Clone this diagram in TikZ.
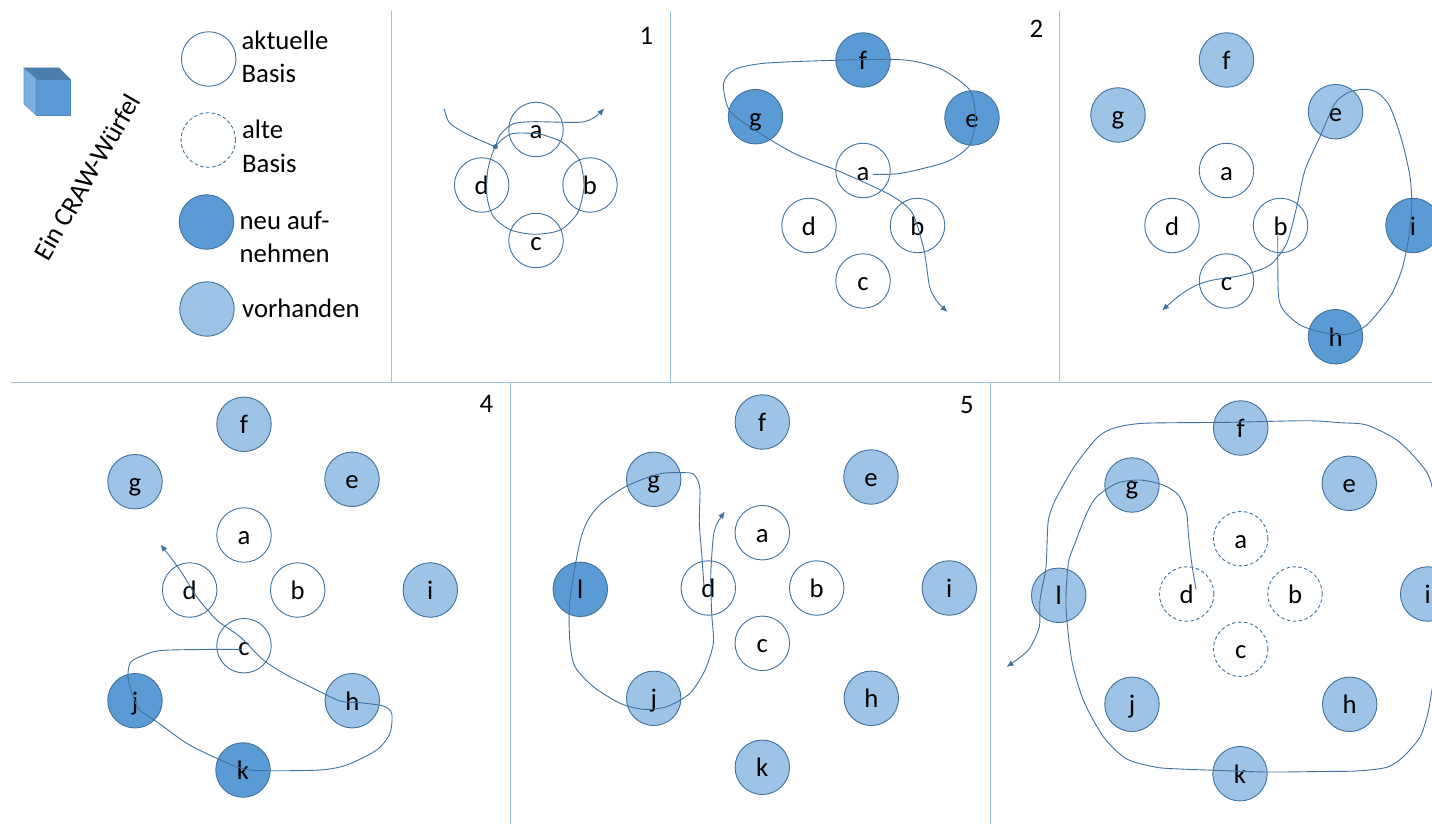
\documentclass[tikz,border=0pt]{standalone}
\usepackage{fontspec}
\setmainfont{Carlito}
\usetikzlibrary{arrows.meta}
\definecolor{edgeblue}{HTML}{41719C}
\definecolor{newfill}{HTML}{5B9BD5}
\definecolor{oldfill}{HTML}{9DC3E6}
\definecolor{sepblue}{HTML}{9DC3E6}
\definecolor{cubetop}{HTML}{4A7EAD}
\definecolor{cubeleft}{HTML}{7CAFDD}
\tikzset{
  basenode/.style={circle,draw=edgeblue,line width=0.9pt,minimum size=54.5pt,inner sep=0pt,text height=19pt,text depth=0pt,font=\fontsize{26.7}{26.7}\selectfont},
  cur/.style={basenode,fill=white},
  alt/.style={basenode,fill=white,dashed,dash pattern=on 3.5pt off 2.5pt},
  neu/.style={basenode,fill=newfill},
  vor/.style={basenode,fill=oldfill},
  legend/.style={anchor=base west,inner sep=0pt,font=\fontsize{26.7}{26.7}\selectfont},
  panelno/.style={anchor=base,inner sep=0pt,font=\fontsize{26.7}{26.7}\selectfont},
  sep/.style={draw=sepblue,line width=1pt},
  walk/.style={draw=edgeblue,line width=0.9pt},
  walkarrow/.style={walk,-{Latex[length=7pt,width=6pt]}},
}
\begin{document}
\begin{tikzpicture}[x=1pt,y=-1pt]
\useasboundingbox (0,0) rectangle (1432,824);
\clip (0,0) rectangle (1432,824);
% separators
\draw[sep] (391.5,11) -- (391.5,382);
\draw[sep] (670,11) -- (670,382);
\draw[sep] (1059,11) -- (1059,382);
\draw[sep] (11,382) -- (1432,382);
\draw[sep] (510,382) -- (510,824);
\draw[sep] (990.5,382) -- (990.5,824);
% cube
\fill[newfill,draw=newfill!85!black,line width=0.6pt] (36,79) rectangle (70,115);
\fill[cubetop,draw=cubetop,line width=0.6pt] (24,68) -- (59,68) -- (70,79) -- (36,79) -- cycle;
\fill[cubeleft,draw=newfill,line width=0.6pt] (24,68) -- (36,79) -- (36,115) -- (24,104) -- cycle;
\node[rotate=60,inner sep=0pt,font=\fontsize{26.7}{26.7}\selectfont] (cubetext) at (87,177) {Ein CRAW-Würfel};
% legend
\node[cur] (lega) at (208.7,59) {};
\node[alt] (legb) at (208.3,140) {};
\node[neu] (legc) at (206.5,222) {};
\node[vor] (legd) at (207,309) {};
\node[legend] (t1) at (241.5,50) {aktuelle};
\node[legend] (t2) at (241.5,83) {Basis};
\node[legend] (t3) at (242,139) {alte};
\node[legend] (t4) at (242,172) {Basis};
\node[legend] (t5) at (239.5,229.5) {neu auf-};
\node[legend] (t6) at (239.5,262.5) {nehmen};
\node[legend] (t7) at (242,317.5) {vorhanden};
% panel numbers
\node[panelno] (n1) at (646.5,45) {1};
\node[panelno] (n2) at (1036.5,38) {2};
\node[panelno] (n4) at (486.5,412.5) {4};
\node[panelno] (n5) at (967,413.5) {5};
% panel 1
\node[cur] (p1a) at (536,129.5) {a};
\node[cur] (p1b) at (590,185) {b};
\node[cur] (p1c) at (536,240.5) {c};
\node[cur] (p1d) at (481.7,185) {d};
% panel 2
\node[neu] (p2f) at (863,60) {f};
\node[neu] (p2g) at (755.5,116.7) {g};
\node[neu] (p2e) at (972,118) {e};
\node[cur] (p2a) at (863,170.5) {a};
\node[cur] (p2d) at (809,225.5) {d};
\node[cur] (p2b) at (917.5,225.5) {b};
\node[cur] (p2c) at (863,281) {c};
% panel 3
\node[vor] (p3f) at (1226.5,60) {f};
\node[vor] (p3g) at (1118,115) {g};
\node[vor] (p3e) at (1335.5,111.7) {e};
\node[cur] (p3a) at (1226.5,170.5) {a};
\node[cur] (p3d) at (1172,225.5) {d};
\node[cur] (p3b) at (1280.5,225.5) {b};
\node[cur] (p3c) at (1226.5,281) {c};
\node[neu] (p3i) at (1413,225.5) {i};
\node[neu] (p3h) at (1335.5,336.7) {h};
% panel 4
\node[vor] (p4f) at (244,424.3) {f};
\node[vor] (p4g) at (135,481.7) {g};
\node[vor] (p4e) at (352,479.3) {e};
\node[cur] (p4a) at (244,535) {a};
\node[cur] (p4d) at (189.7,590) {d};
\node[cur] (p4b) at (297.7,590) {b};
\node[vor] (p4i) at (430.3,590) {i};
\node[cur] (p4c) at (244,645.7) {c};
\node[neu] (p4j) at (135,700.7) {j};
\node[vor] (p4h) at (352.3,700.7) {h};
\node[neu] (p4k) at (243,770) {k};
% panel 5
\node[vor] (p5f) at (762.3,422) {f};
\node[vor] (p5g) at (653.7,479.3) {g};
\node[vor] (p5e) at (871,477) {e};
\node[cur] (p5a) at (762.3,532.7) {a};
\node[cur] (p5d) at (708.3,588) {d};
\node[cur] (p5b) at (816.7,588) {b};
\node[vor] (p5i) at (949.3,588) {i};
\node[neu] (p5l) at (580.3,589.3) {l};
\node[cur] (p5c) at (762.3,643.3) {c};
\node[vor] (p5j) at (653.7,698.3) {j};
\node[vor] (p5h) at (871.3,698.3) {h};
\node[vor] (p5k) at (762.3,767.3) {k};
% panel 6
\node[vor] (p6f) at (1240.7,428) {f};
\node[vor] (p6g) at (1132,485) {g};
\node[vor] (p6e) at (1349.3,483.3) {e};
\node[alt] (p6a) at (1240.7,538.7) {a};
\node[alt] (p6d) at (1186.7,594) {d};
\node[alt] (p6b) at (1295,594) {b};
\node[vor] (p6i) at (1427.7,594) {i};
\node[vor] (p6l) at (1058.7,595.3) {l};
\node[alt] (p6c) at (1240.7,649.3) {c};
\node[vor] (p6j) at (1132,704.3) {j};
\node[vor] (p6h) at (1349.7,704.3) {h};
\node[vor] (p6k) at (1240,773.7) {k};
% free ends of the walks
\coordinate (w1tail) at (444.3,109);
\coordinate (w1dot) at (495.4,146.7);
\coordinate (w1loop) at (531.7,133.3);
\coordinate (w1end) at (604.2,108.3);
\coordinate (w2start) at (873,174.3);
\coordinate (w2end) at (947.5,312);
\coordinate (w3start) at (1277.7,233.3);
\coordinate (w3end) at (1162,310.5);
\coordinate (w4start) at (241.7,649.3);
\coordinate (w4end) at (160.5,544.5);
\coordinate (w5start) at (704,586.7);
\coordinate (w5end) at (724.8,511.5);
\coordinate (w6start) at (1196,589.3);
\coordinate (w6end) at (1006.5,667);
% walks
\begin{scope}[smooth,tension=0.45]
\draw[walk] plot coordinates {(w1tail) (449.6,123) (468.7,135) (w1dot)};
\fill[edgeblue] (w1dot) circle (2.6pt);
\draw[walk] plot coordinates {(w1loop) (510.7,134) (495.4,146.7) (487.8,170) (487,196.7) (493.5,216.7) (510.7,230) (535,234.3) (560.3,230) (577.5,213) (584,186.7) (579.4,160) (562.2,142.3) (541.2,134.3) (w1loop)};
\draw[walkarrow] plot coordinates {(w1dot) (500,135) (512.6,124) (533.6,121.7) (579.4,122.3) (594.7,117.3) (w1end)};
\draw[walkarrow] plot coordinates {(w2start) (901,173.3) (946.8,161.7) (969.7,145) (975.4,116.7) (969.7,90) (943,70) (916.3,61.7) (889.5,59.3) (820.8,60.7) (763.6,63.3) (735,69.3) (723.5,83.3) (729.2,110) (752,128.3) (794,153.3) (836,170) (862.8,181.7) (893.4,196.7) (912.5,213.3) (924,250) (929.6,286.7) (937.3,301.7) (w2end)};
\draw[walkarrow] plot coordinates {(w3start) (1278.3,293.3) (1283.3,310) (1300,325) (1323.3,332.7) (1346.7,334.3) (1366.7,325) (1390,296.7) (1401.7,270) (1408.3,240) (1411.7,206.7) (1410,176.7) (1401.7,140) (1390,106.7) (1378.3,93.3) (1366.7,89.3) (1350,91.7) (1335,103.3) (1320,136.7) (1305,170) (1296.7,206.7) (1286.7,243.3) (1270,265) (1243.3,275) (1213.3,280) (1196.7,285) (1180,295) (w3end)};
\draw[walkarrow] plot coordinates {(w4start) (163.3,650.3) (140,656.7) (130,663.3) (128.3,680) (138.3,708.3) (156.7,721.7) (186.7,743.3) (216.7,758.3) (243.3,769) (266.7,770.7) (320,770) (346.7,765) (376.7,750) (390,733.3) (391.7,713.3) (383.3,706) (360,702.7) (340,701) (313.3,688.3) (286.7,675) (263.3,660) (240,636.7) (216.7,620) (196.7,596.7) (180,570) (w4end)};
\draw[walkarrow] plot coordinates {(w5start) (701.7,553.3) (699.3,523.3) (700,490) (696.7,478.3) (690,473) (660,473.7) (626.7,486) (603.3,501.7) (590,516.7) (581.7,535) (575,566.7) (569.3,606.7) (570,643.3) (575,666.7) (593.3,686.7) (620,703.3) (643.3,709.3) (666.7,706.7) (690,693.3) (705,670) (713.3,643.3) (711.7,613.3) (710.7,576.7) (713.3,536.7) (717.3,523.3) (w5end)};
\draw[walkarrow] plot coordinates {(w6start) (1191.7,563.3) (1188.3,533.3) (1186.7,513.3) (1178.3,495) (1163.3,485) (1140,480) (1116.7,483.3) (1096.7,496.7) (1086.7,513.3) (1075,543.3) (1068.3,563.3) (1066,606.7) (1071.7,660) (1083.3,700) (1103.3,736.7) (1126.7,759) (1156.7,767.3) (1180,769) (1206.7,770) (1266.7,772) (1320,771.5) (1356.7,771) (1386.7,767.3) (1403,757) (1420,737) (1428,713) (1432,690) (1450,590) (1432,486.7) (1420,463.3) (1396.7,440) (1366.7,425) (1340,422.7) (1306.7,420.7) (1230,422.3) (1143.3,423.3) (1113.3,428.3) (1099,436) (1086.7,450) (1074,467) (1061.7,488) (1053,505) (1048,523) (1046,566.7) (1040,600) (1039.3,626.7) (1028.3,650) (w6end)};
\end{scope}
\end{tikzpicture}
\end{document}
